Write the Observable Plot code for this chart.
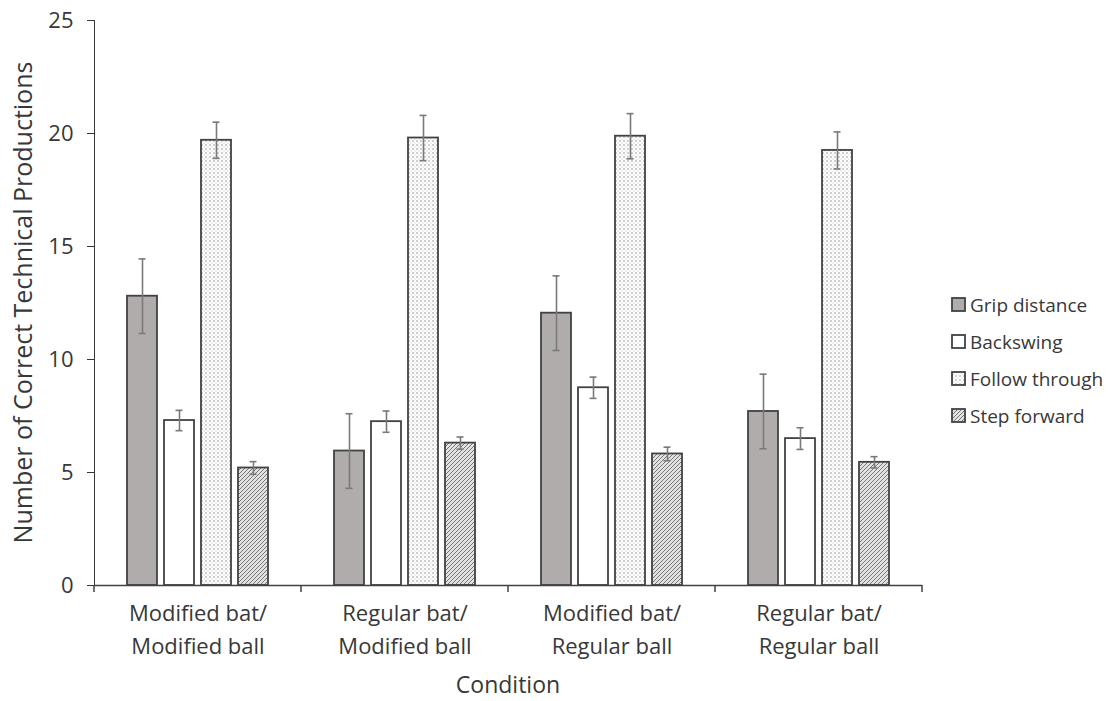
<!DOCTYPE html>
<html>
<head>
<meta charset="utf-8">
<script src="https://cdn.jsdelivr.net/npm/d3@7"></script>
<script src="https://cdn.jsdelivr.net/npm/@observablehq/plot@0.6"></script>
<style>
  html, body { margin: 0; padding: 0; background: #fff; }
  #wrap { position: relative; width: 1110px; height: 701px; font-family: "Open Sans", sans-serif; }
  #legend { position: absolute; left: 951px; top: 286px; font-size: 19px; color: #383838; }
  #legend .row { display: flex; align-items: center; height: 37px; }
  #legend svg { margin-right: 4px; }
</style>
</head>
<body>
<div id="wrap"></div>
<script>
const conditions = ["Modified bat/\nModified ball", "Regular bat/\nModified ball", "Modified bat/\nRegular ball", "Regular bat/\nRegular ball"];
const series = ["Grip distance", "Backswing", "Follow through", "Step forward"];
const gripDistance  = [12.8, 5.95, 12.05, 7.7];
const backswing     = [7.3, 7.25, 8.75, 6.5];
const followThrough = [19.7, 19.8, 19.88, 19.25];
const stepForward   = [5.2, 6.3, 5.82, 5.45];
const gripErr    = [1.65, 1.65, 1.65, 1.65];
const backErr    = [0.45, 0.47, 0.47, 0.48];
const followErr  = [0.8, 1.0, 1.0, 0.82];
const stepErr    = [0.28, 0.27, 0.3, 0.25];
const yTicks = [0, 5, 10, 15, 20, 25];

const values = [gripDistance, backswing, followThrough, stepForward];
const errs = [gripErr, backErr, followErr, stepErr];
const data = [];
conditions.forEach((c, i) => series.forEach((s, j) => {
  data.push({condition: c, series: s, value: values[j][i], lo: values[j][i] - errs[j][i], hi: values[j][i] + errs[j][i]});
}));

const fills = ["#b0acac", "#ffffff", "url(#pat-dots)", "url(#pat-hatch)"];
const edge = "#424242";
const textColor = "#383838";

const plot = Plot.plot({
  width: 1110,
  height: 701,
  marginLeft: 93,
  marginRight: 187,
  marginTop: 20,
  marginBottom: 116,
  style: {fontFamily: "Open Sans, sans-serif", fontSize: "21px", color: textColor, background: "#fff"},
  fx: {domain: conditions, padding: 0, axis: null},
  x: {domain: series, paddingInner: 0.18, paddingOuter: 0.82, axis: null},
  y: {domain: [0, 25], ticks: yTicks, tickSize: 7, tickPadding: 14, line: true, label: null},
  color: {domain: series, range: fills},
  marks: [
    Plot.barY(data, {fx: "condition", x: "series", y: "value", fill: "series", stroke: edge, strokeWidth: 1.8}),
    Plot.ruleX(data, {fx: "condition", x: "series", y1: "lo", y2: "hi", stroke: "#7a7a7a", strokeWidth: 1.6}),
    Plot.tickY(data, {fx: "condition", x: "series", y: "hi", stroke: "#7a7a7a", strokeWidth: 1.6, insetLeft: 11.5, insetRight: 11.5}),
    Plot.tickY(data, {fx: "condition", x: "series", y: "lo", stroke: "#7a7a7a", strokeWidth: 1.6, insetLeft: 11.5, insetRight: 11.5}),
    Plot.ruleY([0], {stroke: edge, strokeWidth: 1.6}),
    Plot.text(conditions, {fx: d => d, text: d => d, frameAnchor: "bottom", lineAnchor: "top", dy: 12, fontSize: 22, lineHeight: 1.5, fill: textColor})
  ]
});

// patterns
const svg = d3.select(plot);
const defs = svg.insert("defs", ":first-child");
const dots = defs.append("pattern").attr("id", "pat-dots").attr("patternUnits", "userSpaceOnUse").attr("width", 4).attr("height", 4);
dots.append("rect").attr("width", 4).attr("height", 4).attr("fill", "#fdfdfd");
dots.append("circle").attr("cx", 1).attr("cy", 1).attr("r", 0.8).attr("fill", "#959595");
dots.append("circle").attr("cx", 3).attr("cy", 3).attr("r", 0.55).attr("fill", "#bdbdbd");
const hatch = defs.append("pattern").attr("id", "pat-hatch").attr("patternUnits", "userSpaceOnUse").attr("width", 4).attr("height", 4);
hatch.append("rect").attr("width", 4).attr("height", 4).attr("fill", "#e2e2e2");
hatch.append("path").attr("d", "M-1,1 l2,-2 M0,4 l4,-4 M3,5 l2,-2").attr("stroke", "#6a6a6a").attr("stroke-width", 0.9);

// y tick label size
svg.selectAll('g[aria-label^="y-axis"] text').attr("font-size", 22).attr("fill", textColor);

// category boundary ticks on x axis from fx scale
const fx = plot.scale("fx");
const ys = plot.scale("y");
const y0 = ys.apply(0);
const bounds = conditions.map(c => fx.apply(c)).concat([fx.apply(conditions[conditions.length - 1]) + fx.bandwidth]);
const g = svg.append("g").attr("stroke", edge).attr("stroke-width", 1.5);
bounds.forEach(b => g.append("line").attr("x1", b).attr("x2", b).attr("y1", y0).attr("y2", y0 + 7));

// axis titles
const yMid = (ys.apply(0) + ys.apply(25)) / 2;
svg.append("text").attr("transform", `translate(32,${yMid}) rotate(-90)`).attr("text-anchor", "middle")
  .attr("font-size", 25).attr("fill", textColor).text("Number of Correct Technical Productions");
const xMid = (bounds[0] + bounds[bounds.length - 1]) / 2;
svg.append("text").attr("x", xMid).attr("y", 693).attr("text-anchor", "middle")
  .attr("font-size", 23).attr("fill", textColor).text("Condition");

const wrap = document.getElementById("wrap");
wrap.appendChild(plot);

// legend
const legend = document.createElement("div");
legend.id = "legend";
series.forEach((s, i) => {
  const row = document.createElement("div");
  row.className = "row";
  row.innerHTML = `<svg width="15" height="15"><rect x="1" y="1" width="13" height="13" fill="${fills[i]}" stroke="${edge}" stroke-width="1.8"/></svg><span>${s}</span>`;
  legend.appendChild(row);
});
wrap.appendChild(legend);
</script>
</body>
</html>
